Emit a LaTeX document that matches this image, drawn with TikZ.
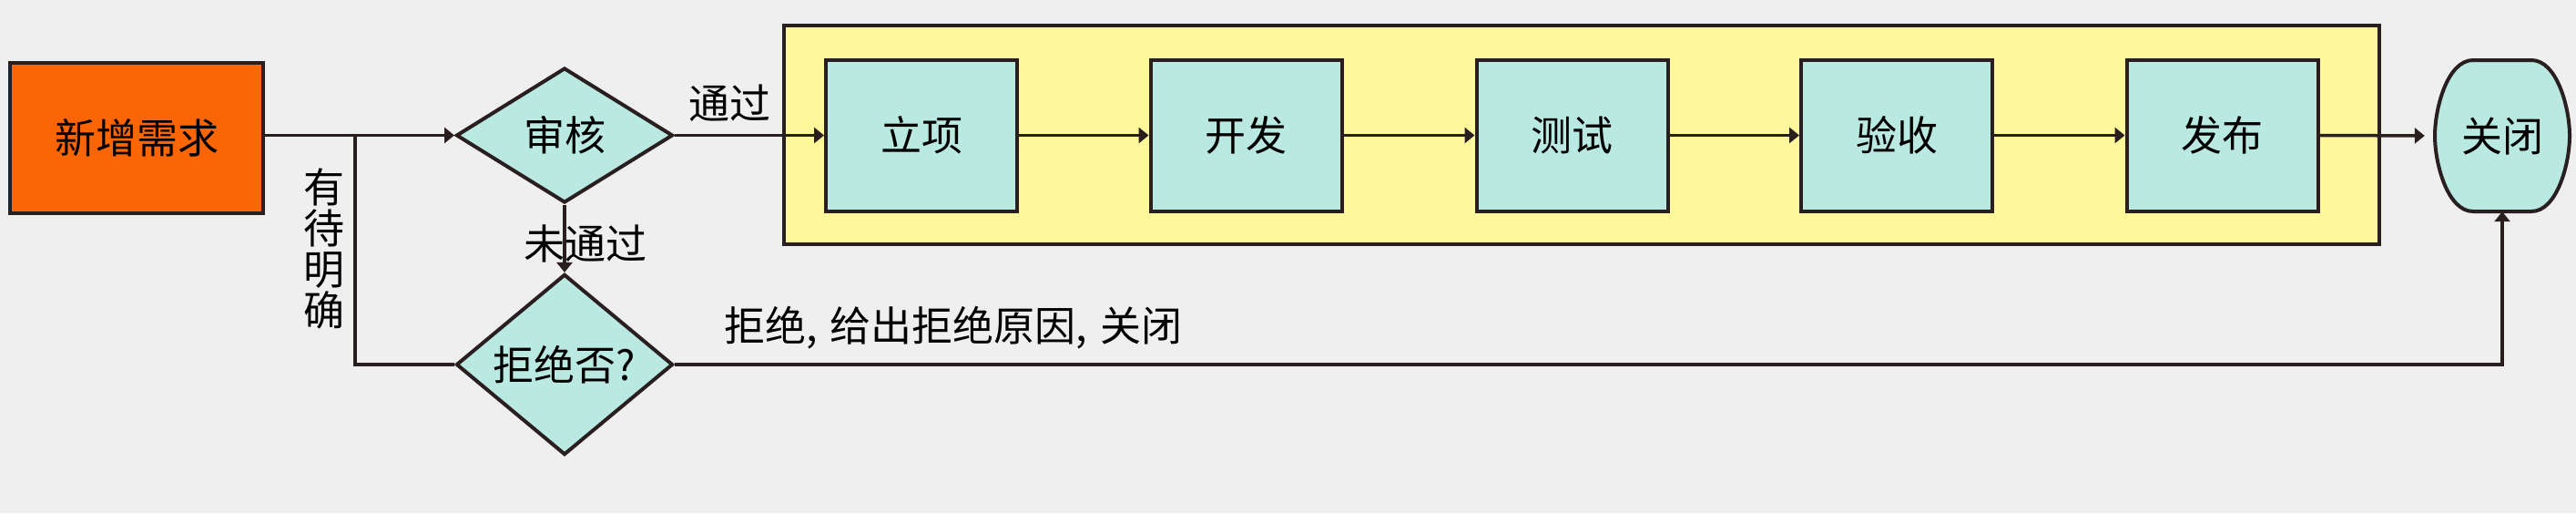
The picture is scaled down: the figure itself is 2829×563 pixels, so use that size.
\documentclass[tikz,border=0pt]{standalone}
\usepackage{fontspec}
\setmainfont{Noto Sans CJK SC}
\usetikzlibrary{shapes.geometric,arrows.meta}
\definecolor{bg}{HTML}{F0EFF0}
\definecolor{orng}{HTML}{FC6503}
\definecolor{cyn}{HTML}{BAE9E2}
\definecolor{ylw}{HTML}{FFF89B}
\definecolor{ink}{HTML}{2A1F1F}
\begin{document}
\begin{tikzpicture}[x=1pt,y=-1pt,
  every node/.style={font=\fontsize{45}{45}\selectfont, text=black},
  box/.style={draw=ink, line width=4pt, fill=cyn, minimum width=210pt, minimum height=166pt, inner sep=0pt},
  dia/.style={diamond, draw=ink, line width=4pt, fill=cyn, minimum width=238pt, minimum height=148pt, inner sep=0pt},
  conn/.style={draw=ink, line width=3.5pt},
  arr/.style={conn, -{Triangle[length=11pt,width=17pt]}},
  lbl/.style={inner sep=0pt}]
\fill[bg] (0,0) rectangle (2829,563);
\useasboundingbox (0,0) rectangle (2829,563);
% group box
\node[draw=ink, line width=4pt, fill=ylw, minimum width=1752pt, minimum height=240pt, inner sep=0pt] (grp) at (1737,148) {};
% start
\node[draw=ink, line width=4pt, fill=orng, minimum width=278pt, minimum height=165pt, inner sep=0pt] (req) at (150,151.5) {新增需求};
% decisions
\node[dia] (sh) at (620,148.5) {审核};
\node[dia] (rej) at (620,400) {拒绝否?};
% steps
\node[box] (b1) at (1012,148.5) {立项};
\node[box] (b2) at (1368.5,148.5) {开发};
\node[box] (b3) at (1726.5,148.5) {测试};
\node[box] (b4) at (2083,148.5) {验收};
\node[box] (b5) at (2440.5,148.5) {发布};
% end terminator
\filldraw[fill=cyn, draw=ink, line width=4pt]
  (2716,66) -- (2780,66)
  .. controls (2808,66) and (2822,118) .. (2822,149)
  .. controls (2822,180) and (2808,232) .. (2780,232)
  -- (2716,232)
  .. controls (2688,232) and (2674,180) .. (2674,149)
  .. controls (2674,118) and (2688,66) .. (2716,66) -- cycle;
\node[minimum width=148pt, minimum height=166pt, inner sep=0pt] (close) at (2748,149) {关闭};
% junction
\coordinate (jn) at (390,148.5);
% connectors
\draw[arr] (req.east |- sh.west) -- (sh.west);
\draw[conn] (jn) |- (rej.west);
\draw[arr] (sh.east) -- (b1.west);
\draw[arr] (sh.south) -- (rej.north);
\draw[arr] (b1.east) -- (b2.west);
\draw[arr] (b2.east) -- (b3.west);
\draw[arr] (b3.east) -- (b4.west);
\draw[arr] (b4.east) -- (b5.west);
\draw[arr, shorten >=11pt] (b5.east) -- (close.west);
\draw[arr] (rej.east) -| (close.south);
% labels
\node[lbl] (l1) at (801,113) {通过};
\node[lbl] (l2) at (643,267) {未通过};
\node[lbl, align=center] (l3) at (356,273) {有\\待\\明\\确};
\node[lbl, anchor=west] (l4) at (795,360) {拒绝,\hspace{14pt}给出拒绝原因,\hspace{14pt}关闭};
\end{tikzpicture}
\end{document}
